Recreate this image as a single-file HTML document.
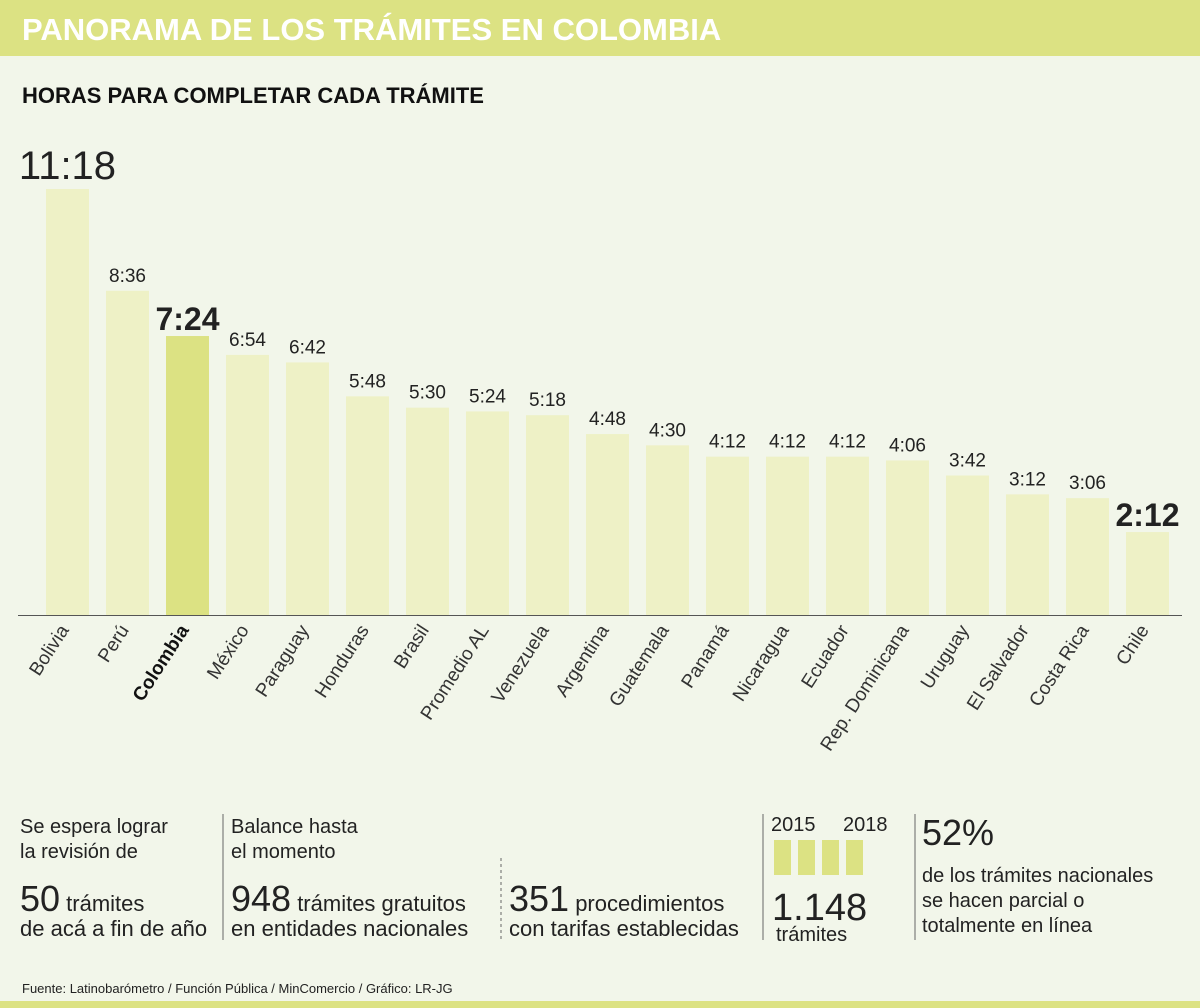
<!DOCTYPE html>
<html><head><meta charset="utf-8"><style>
body{margin:0;background:#f2f6ea;font-family:"Liberation Sans",sans-serif}
svg{display:block}
</style></head><body>
<svg width="1200" height="1008" xmlns="http://www.w3.org/2000/svg" id="chart">
<rect width="1200" height="1008" fill="#f2f6ea"/>
<rect width="1200" height="56" fill="#dce283"/>
<text x="22" y="40" font-size="31" font-weight="bold" fill="#fff">PANORAMA DE LOS TRÁMITES EN COLOMBIA</text>
<text x="22" y="103" font-size="22" font-weight="bold" fill="#111">HORAS PARA COMPLETAR CADA TRÁMITE</text>
<g id="bars"></g>
<line x1="18" y1="615.5" x2="1182" y2="615.5" stroke="#555" stroke-width="1"/>
<g font-size="20" fill="#222">
<text x="20" y="833">Se espera lograr</text>
<text x="20" y="858">la revisión de</text>
<text x="20" y="911" font-size="36">50<tspan font-size="22"> trámites</tspan></text>
<text x="20" y="936" font-size="22">de acá a fin de año</text>
<line x1="223" y1="814" x2="223" y2="940" stroke="#666"/>
<text x="231" y="833">Balance hasta</text>
<text x="231" y="858">el momento</text>
<text x="231" y="911" font-size="36">948<tspan font-size="22"> trámites gratuitos</tspan></text>
<text x="231" y="936" font-size="22">en entidades nacionales</text>
<line x1="501" y1="858" x2="501" y2="940" stroke="#666" stroke-dasharray="3,3"/>
<text x="509" y="911" font-size="36">351<tspan font-size="22"> procedimientos</tspan></text>
<text x="509" y="936" font-size="22">con tarifas establecidas</text>
<line x1="763" y1="814" x2="763" y2="940" stroke="#666"/>
<text x="771" y="831" font-size="20">2015</text>
<text x="843" y="831" font-size="20">2018</text>
<rect x="774" y="840" width="17" height="35" fill="#dce283"/>
<rect x="798" y="840" width="17" height="35" fill="#dce283"/>
<rect x="822" y="840" width="17" height="35" fill="#dce283"/>
<rect x="846" y="840" width="17" height="35" fill="#dce283"/>
<text x="772" y="920" font-size="38">1.148</text>
<text x="776" y="941" font-size="20">trámites</text>
<line x1="915" y1="814" x2="915" y2="940" stroke="#666"/>
<text x="922" y="845" font-size="36">52%</text>
<text x="922" y="882" font-size="20">de los trámites nacionales</text>
<text x="922" y="907" font-size="20">se hacen parcial o</text>
<text x="922" y="932" font-size="20">totalmente en línea</text>
</g>
<text x="22" y="993" font-size="13" fill="#222">Fuente:  Latinobarómetro / Función Pública / MinComercio / Gráfico: LR-JG</text>
<rect x="0" y="1001" width="1200" height="7" fill="#dce283"/>
</svg>
<script>
const countries=["Bolivia","Perú","Colombia","México","Paraguay","Honduras","Brasil","Promedio AL","Venezuela","Argentina","Guatemala","Panamá","Nicaragua","Ecuador","Rep. Dominicana","Uruguay","El Salvador","Costa Rica","Chile"];
const labels=["11:18","8:36","7:24","6:54","6:42","5:48","5:30","5:24","5:18","4:48","4:30","4:12","4:12","4:12","4:06","3:42","3:12","3:06","2:12"];
const minutes=[678,516,444,414,402,348,330,324,318,288,270,252,252,252,246,222,192,186,132];
const highlight="Colombia";
const NS="http://www.w3.org/2000/svg";
const g=document.getElementById('bars');
const base=615, k=426/678, x0=46, step=60, bw=43;
function xs(i){return x0+i*step;}
function ys(v){return base-v*k;}
countries.forEach((c,i)=>{
  const big=(i===0||c===highlight||i===countries.length-1);
  const r=document.createElementNS(NS,'rect');
  r.setAttribute('x',xs(i));r.setAttribute('y',ys(minutes[i]));
  r.setAttribute('width',bw);r.setAttribute('height',base-ys(minutes[i]));
  r.setAttribute('fill',c===highlight?'#dce283':'#eef1c6');
  
  
  g.appendChild(r);
  const t=document.createElementNS(NS,'text');
  t.setAttribute('x',xs(i)+bw/2);t.setAttribute('y',ys(minutes[i])-(big?(i===0?10:6):9));
  t.setAttribute('text-anchor','middle');
  t.setAttribute('font-size',i===0?40:(big?32:19));
  if(big&&i!==0)t.setAttribute('font-weight','bold');
  t.setAttribute('fill','#222');
  t.textContent=labels[i];
  
  
  g.appendChild(t);
  const l=document.createElementNS(NS,'text');
  const lx=xs(i)+bw/2+2, ly=630;
  l.setAttribute('x',lx);l.setAttribute('y',ly);
  l.setAttribute('text-anchor','end');
  l.setAttribute('font-size',19);
  l.setAttribute('fill','#333');
  if(c===highlight){l.setAttribute('font-weight','bold');l.setAttribute('fill','#111');}
  l.setAttribute('transform','rotate(-57 '+lx+' '+ly+')');
  l.textContent=c;
  
  
  g.appendChild(l);
});
</script>
</body></html>
